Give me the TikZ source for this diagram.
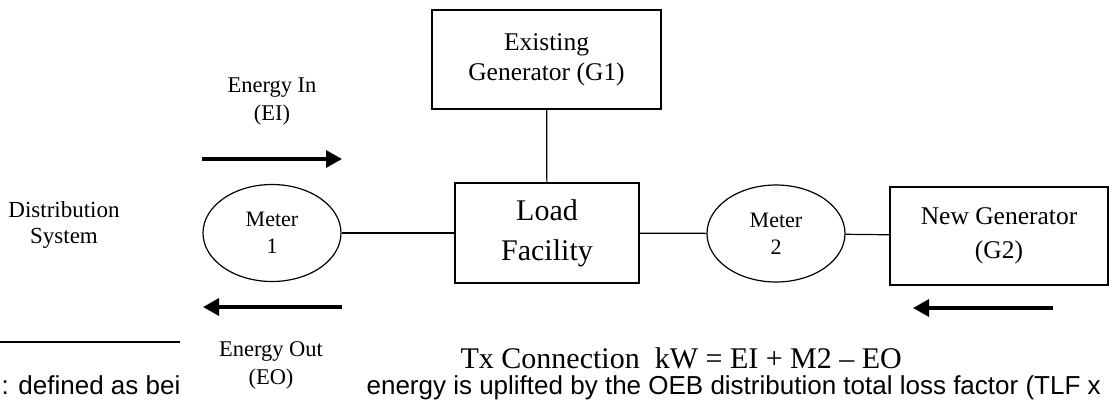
\documentclass[tikz,border=0pt]{standalone}
\usepackage{fontspec}
\setmainfont{Liberation Serif}
\newfontfamily\arialfont{Liberation Sans}
\usetikzlibrary{shapes.geometric,arrows.meta}
\tikzset{every picture/.style={line width=1.2pt}}
\tikzset{
	blockbox/.style={draw, align=center, inner sep=0pt},
	meterellipse/.style={draw, ellipse, align=center, inner sep=0pt, minimum width=138pt, minimum height=97pt, font=\fontsize{22}{27}\selectfont},
	flowarrow/.style={line width=3.2pt, -{Triangle[length=16pt,width=17pt]}},
	flowlabel/.style={align=center, inner sep=0pt, font=\fontsize{22.5}{28}\selectfont}
}

\begin{document}
\begin{tikzpicture}[x=1pt,y=1pt,yscale=-1,xscale=1]
	\useasboundingbox (0,0) rectangle (1109,400);
	\clip (0,0) rectangle (1109,400);
	
	%Boxes
	\node (gone) [blockbox, minimum width=229pt, minimum height=99pt, font=\fontsize{25.5}{30}\selectfont] at (546.5,59.5) {Existing\\Generator (G1)};
	\node (load) [blockbox, minimum width=184pt, minimum height=100pt, font=\fontsize{30}{40}\selectfont] at (547,233) {Load\\Facility};
	\node (gtwo) [blockbox, minimum width=218pt, minimum height=98pt, font=\fontsize{25.5}{34}\selectfont] at (999,236) {New Generator\\(G2)};
	%Meters
	\node (mone) [meterellipse] at (272,233) {Meter\\1};
	\node (mtwo) [meterellipse] at (776,233.5) {Meter\\2};
	
	%Connections
	\draw (gone) -- (load);
	\draw (mone) -- (load);
	\draw (load) -- (mtwo);
	\draw (mtwo) -- (gtwo);
	
	%Flow arrows
	\coordinate (einS) at (202,159);
	\coordinate (einE) at (342,159);
	\coordinate (eoutS) at (342,307);
	\coordinate (eoutE) at (203,307);
	\coordinate (gtwoS) at (1053,308);
	\coordinate (gtwoE) at (913,308);
	\draw [flowarrow] (einS) -- (einE);
	\draw [flowarrow] (eoutS) -- (eoutE);
	\draw [flowarrow] (gtwoS) -- (gtwoE);
	
	%Labels
	\node (dist) [align=center, inner sep=0pt, font=\fontsize{23}{26}\selectfont] at (64,225) {Distribution\\System};
	\node (ein) [flowlabel] at (272,102) {Energy In\\(EI)};
	\node (eout) [flowlabel] at (271,365) {Energy Out\\(EO)};
	\node (txconn) [anchor=base west, inner sep=0pt, font=\fontsize{30}{36}\selectfont] at (460,368) {Tx Connection\ \ kW = EI + M2 – EO};
	
	%Page text behind the figure
	\coordinate (ruleS) at (0,342);
	\coordinate (ruleE) at (180,342);
	\draw [line width=2pt] (ruleS) -- (ruleE);
	\node (defined) [anchor=base west, inner sep=0pt, font=\arialfont\fontsize{26}{30}\selectfont] at (1,394) {: defined as bei};
	\node (uplift) [anchor=base west, inner sep=0pt, font=\arialfont\fontsize{26}{30}\selectfont] at (366,394) {energy is uplifted by the OEB distribution total loss factor (TLF x};
\end{tikzpicture}
\end{document}
